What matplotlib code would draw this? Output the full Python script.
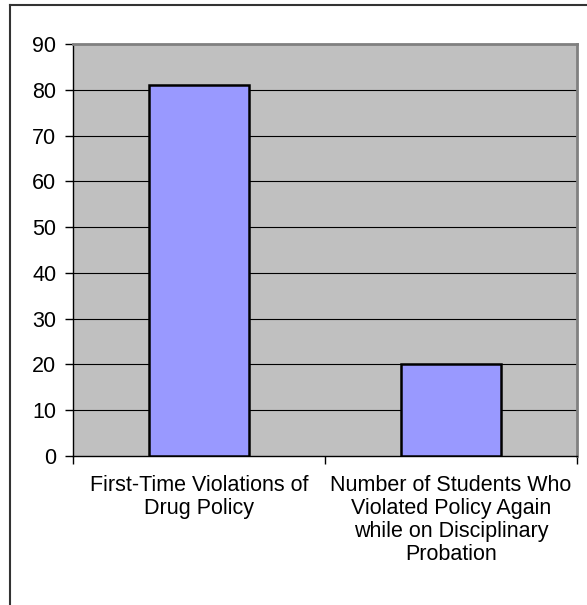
import matplotlib
matplotlib.use("Agg")
import matplotlib.pyplot as plt
from matplotlib.lines import Line2D

categories = [
    "First-Time Violations of\nDrug Policy",
    "Number of Students Who\nViolated Policy Again\nwhile on Disciplinary\nProbation",
]
values = [81, 20]
y_ticks = [0, 10, 20, 30, 40, 50, 60, 70, 80, 90]

W, H = 587, 605
plt.rcParams["font.family"] = ["Liberation Sans", "DejaVu Sans"]

fig = plt.figure(figsize=(W / 100, H / 100), dpi=100)
fig.patch.set_facecolor("white")

# plot area in pixel coordinates
left, top, right, bottom = 73, 44, 577, 456
ax = fig.add_axes([left / W, 1 - bottom / H, (right - left) / W, (bottom - top) / H])
ax.set_facecolor("#C0C0C0")

x = list(range(len(values)))
ax.bar(x, values, width=0.4, color="#9999FF", edgecolor="black", linewidth=1.8, zorder=3)

ax.set_xlim(-0.5, len(values) - 0.5)
ax.set_ylim(0, 90)
ax.set_yticks(y_ticks)
ax.set_yticklabels([str(v) for v in y_ticks], fontsize=15.5)
for v in y_ticks[1:-1]:
    ax.axhline(v, color="black", linewidth=0.8, zorder=1)

# category boundaries carry the tick marks, centres carry the labels
ax.set_xticks([i - 0.5 for i in range(len(values) + 1)])
ax.set_xticklabels([])
ax.set_xticks(x, minor=True)
ax.set_xticklabels(categories, minor=True, fontsize=15.5, linespacing=1.12, va="top")
ax.tick_params(axis="x", which="major", direction="out", length=6, width=1)
ax.tick_params(axis="x", which="minor", length=0, pad=14)
ax.tick_params(axis="y", direction="out", length=6, width=1, pad=6)

for side in ("left", "bottom"):
    ax.spines[side].set_color("black")
    ax.spines[side].set_linewidth(1.0)
for side in ("top", "right"):
    ax.spines[side].set_color("#808080")
    ax.spines[side].set_linewidth(2.0)

# chart frame (top and left edges)
fig.add_artist(Line2D([10 / W, 10 / W], [0, 1 - 5 / H], transform=fig.transFigure,
                      color="#333333", linewidth=1.5))
fig.add_artist(Line2D([10 / W, 1], [1 - 5 / H, 1 - 5 / H], transform=fig.transFigure,
                      color="#333333", linewidth=1.5))

fig.savefig("out.png", dpi=100)
